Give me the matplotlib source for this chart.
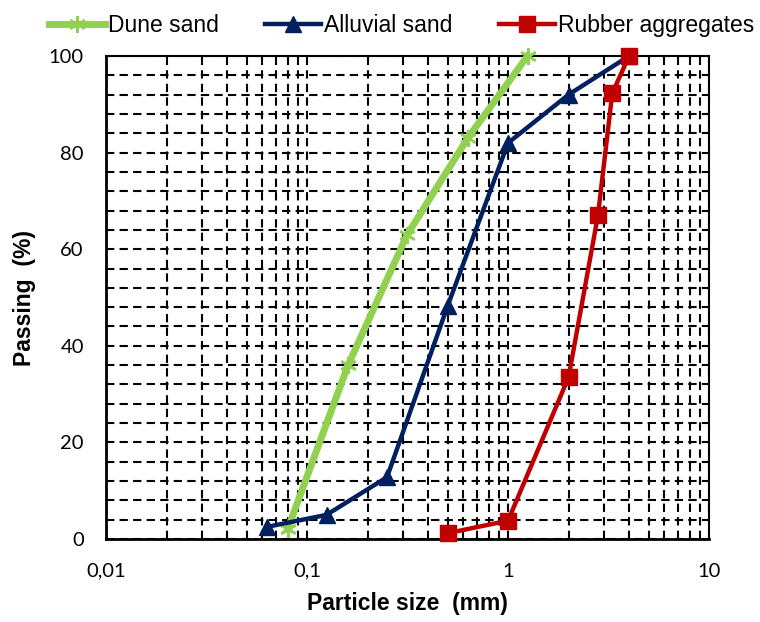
import matplotlib
matplotlib.use('Agg')
import matplotlib.pyplot as plt
from matplotlib.ticker import FixedLocator, NullFormatter, MultipleLocator

plt.rcParams['font.family'] = ['Liberation Sans', 'DejaVu Sans']

dune_size = [0.08, 0.16, 0.315, 0.63, 1.25]
dune_pass = [2.0, 36.0, 63.0, 83.0, 100.0]

alluvial_size = [0.063, 0.125, 0.25, 0.5, 1.0, 2.0, 4.0]
alluvial_pass = [2.5, 5.0, 12.8, 48.2, 82.0, 92.0, 100.0]

rubber_size = [0.5, 1.0, 2.0, 2.8, 3.3, 4.0]
rubber_pass = [1.2, 3.8, 33.5, 67.0, 92.3, 100.0]

x_ticks = [0.01, 0.1, 1, 10]
x_tick_labels = ['0,01', '0,1', '1', '10']
y_ticks = [0, 20, 40, 60, 80, 100]

fig = plt.figure(figsize=(7.6, 6.22), dpi=100)
ax = fig.add_axes([0.1395, 0.1334, 0.7935, 0.7766])

ax.plot(dune_size, dune_pass, color='#92d050', lw=5, marker=(6, 2, 0), ms=12, mew=1.8,
        label='Dune sand', clip_on=False, zorder=5)
ax.plot(alluvial_size, alluvial_pass, color='#002060', lw=3.2, marker='^', ms=12,
        label='Alluvial sand', clip_on=False, zorder=6)
ax.plot(rubber_size, rubber_pass, color='#c00000', lw=3.2, marker='s', ms=12,
        label='Rubber aggregates', clip_on=False, zorder=7)

ax.set_xscale('log')
ax.set_xlim(0.01, 10)
ax.set_ylim(0, 100)

minors = [m * 10.0 ** e for e in (-2, -1, 0) for m in range(2, 10)]
ax.xaxis.set_major_locator(FixedLocator(x_ticks))
ax.xaxis.set_minor_locator(FixedLocator(minors))
ax.xaxis.set_minor_formatter(NullFormatter())
ax.set_xticklabels(x_tick_labels)
ax.set_yticks(y_ticks)
ax.yaxis.set_minor_locator(MultipleLocator(4))

ax.grid(True, which='both', color='black', ls=(0, (4, 2.5)), lw=1.5)
ax.set_axisbelow(True)
for s in ax.spines.values():
    s.set_linewidth(1.5)
ax.spines['bottom'].set_linewidth(2)
ax.spines['left'].set_linewidth(2)

ax.tick_params(which='both', length=0)
ax.tick_params(axis='x', pad=17, labelsize=14.5)
ax.tick_params(axis='y', pad=16, labelsize=14.5)
for lab in ax.get_xticklabels() + ax.get_yticklabels():
    lab.set_family(['Lato', 'DejaVu Sans'])

ax.set_xlabel('Particle size  (mm)', fontsize=16.5, fontweight='bold', labelpad=9)
ax.set_ylabel('Passing  (%)', fontsize=16.5, fontweight='bold', labelpad=9)

ax.legend(loc='lower center', bbox_to_anchor=(0.49, 1.01), ncol=3, frameon=False,
          fontsize=16.5, handlelength=2.45, handletextpad=0.15, columnspacing=2.0,
          borderaxespad=0.2)

fig.savefig('out.png', dpi=100)
